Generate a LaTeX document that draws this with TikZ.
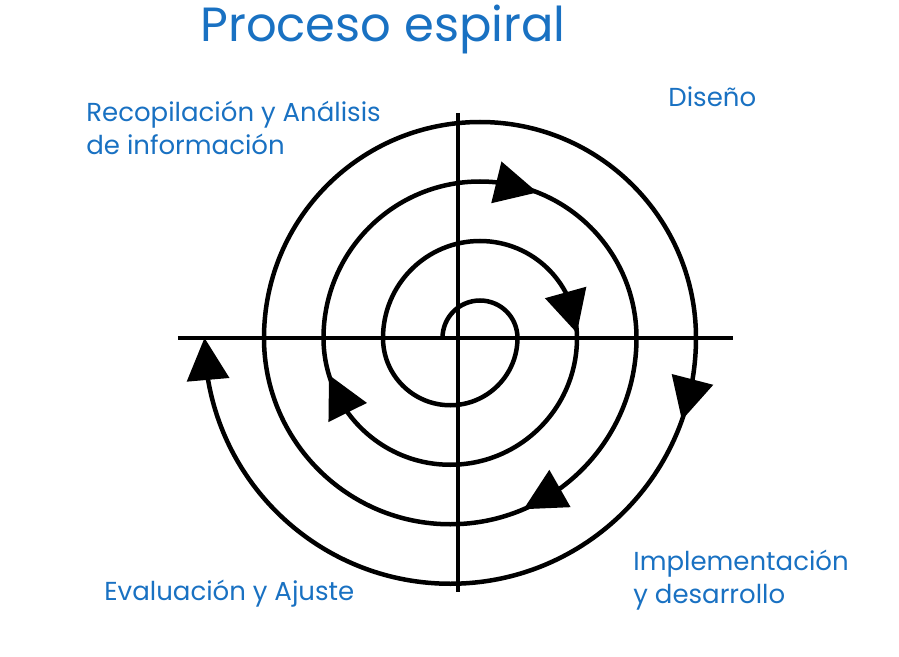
\documentclass[tikz,border=0pt]{standalone}
\usepackage{fontspec}
\setmainfont{Poppins}
\usetikzlibrary{calc}
\definecolor{inkblue}{HTML}{1971C2}

\newcommand{\spiralhead}[4]{%
  \path (#1) ++(#3:#2) coordinate (tip) (#1) ++(#4:#2) coordinate (back);
  \fill ($(back)!21.5pt!90:(tip)$) -- (tip) -- ($(back)!21.5pt!-90:(tip)$) -- cycle;
}

\begin{document}
\begin{tikzpicture}[x=1pt, y=1pt, thick,
    axis/.style = {line width=4.5pt},
    spiral/.style = {line width=4.5pt},
    note/.style = {inkblue, font=\fontsize{26}{33}\selectfont, align=left, anchor=base west, inner sep=0pt}]
    \useasboundingbox (-458,-318) rectangle (441,338);
    \coordinate (o) at (0,0);
    \coordinate (upper) at (22,0);
    \coordinate (lower) at (-7.75,0);
    \coordinate (west) at (-280,0);
    \coordinate (east) at (275,0);
    \coordinate (north) at (0,225);
    \coordinate (south) at (0,-254);

    %axes
    \draw[axis] (west) -- (east);
    \draw[axis] (north) -- (south);

    %spiral
    \draw[spiral] (-15.5,0) arc[start angle=180, end angle=0, radius=37.5]
        arc[start angle=0, end angle=-180, radius=67.25]
        arc[start angle=180, end angle=0, radius=97]
        arc[start angle=0, end angle=-180, radius=126.75]
        arc[start angle=180, end angle=0, radius=156.5]
        arc[start angle=0, end angle=-180, radius=186.25]
        arc[start angle=180, end angle=0, radius=216]
        arc[start angle=0, end angle=-172, radius=245.75];

    %heads
    \spiralhead{upper}{156.5}{68.5}{84}
    \spiralhead{upper}{97}{3}{28}
    \spiralhead{lower}{126.75}{-163}{-144}
    \spiralhead{lower}{186.25}{-66.8}{-53.9}
    \spiralhead{lower}{245.75}{-19.5}{-9.7}
    \spiralhead{lower}{245.75}{-180}{-170.2}

    %texts
    \node[inkblue, font=\fontsize{48}{50}\selectfont, anchor=base west, inner sep=0pt] (title) at (-258,296) {Proceso espiral};
    \node[note] (recop) at (-372,183) {Recopilación y Análisis\\de información};
    \node[note] (diseno) at (210,231) {Diseño};
    \node[note] (impl) at (175,-265) {Implementación\\y desarrollo};
    \node[note] (eval) at (-354,-262) {Evaluación y Ajuste};
\end{tikzpicture}
\end{document}
